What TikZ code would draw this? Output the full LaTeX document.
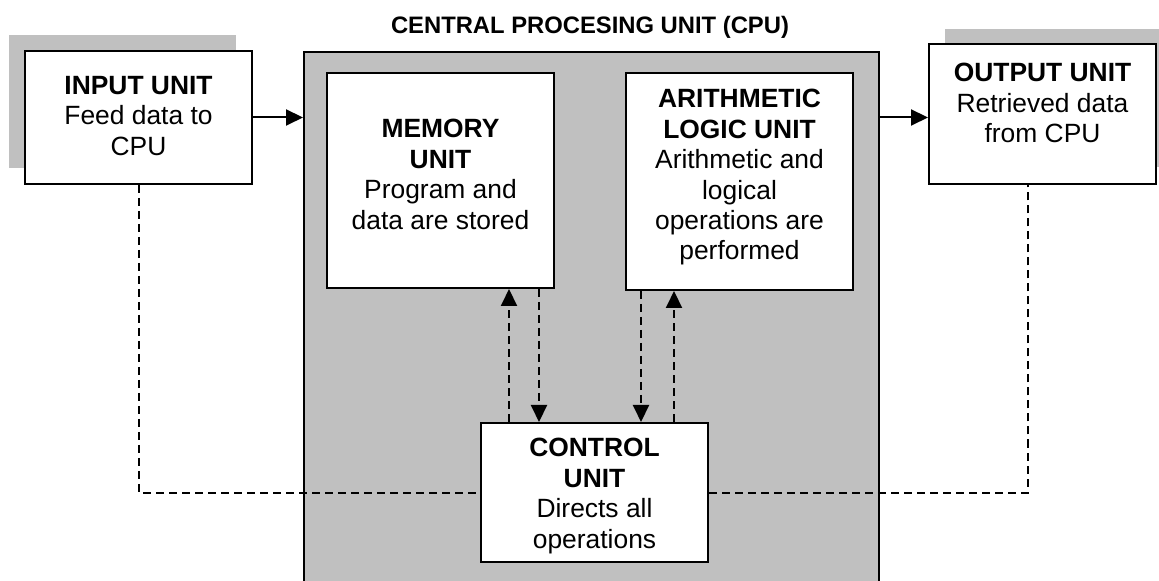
\documentclass[tikz,border=0pt]{standalone}
\usepackage{fontspec}
\setmainfont{Liberation Sans}
\usetikzlibrary{arrows.meta,positioning}
\definecolor{cpugray}{HTML}{C0C0C0}

\begin{document}
\begin{tikzpicture}[x=0.5pt,y=-0.5pt,
    unitbox/.style={draw,line width=1pt,fill=white,minimum width=113.5pt,inner sep=0pt},
    unittext/.style={align=center,inner sep=0pt,font=\fontsize{13.2}{15.2}\selectfont},
    flow/.style={line width=1pt,-{Triangle[length=8.5pt,width=8pt]}},
    ctrl/.style={line width=1pt,dash pattern=on 4pt off 2.5pt},
    ctrlarrow/.style={ctrl,-{Triangle[length=8.5pt,width=8pt]}}]

\clip (0,0) rectangle (1159,581);

% ----------------------------------------------------------
% Shadows behind input and output units
% ----------------------------------------------------------
\fill[cpugray] (9,35) rectangle (236,168);
\fill[cpugray] (945,29) rectangle (1170,167);

% ----------------------------------------------------------
% CPU
% ----------------------------------------------------------
\node[draw,line width=1pt,fill=cpugray,minimum width=287.5pt,minimum height=274pt,inner sep=0pt] (cpu) at (591.5,326) {};
\node[anchor=base,font=\bfseries\fontsize{11.9}{14}\selectfont] (cputitle) at (590,34) {CENTRAL PROCESING UNIT (CPU)};

% ----------------------------------------------------------
% Units
% ----------------------------------------------------------
\node[unitbox,minimum height=66.5pt] (input) at (138.5,117.5) {};
\node[unitbox,minimum height=70pt] (output) at (1042.5,114) {};
\node[unitbox,minimum height=107.5pt] (memory) at (440.5,180.5) {};
\node[unitbox,minimum height=108.5pt] (alu) at (739.5,181.5) {};
\node[unitbox,minimum height=69.5pt] (control) at (594.5,492.5) {};

\node[unittext,below=13pt of input.north] (inputtext) {\textbf{INPUT UNIT}\\Feed data to\\CPU};
\node[unittext,below=10pt of output.north] (outputtext) {\textbf{OUTPUT UNIT}\\Retrieved data\\from CPU};
\node[unittext,below=23.5pt of memory.north] (memorytext) {\textbf{MEMORY}\\\textbf{UNIT}\\Program and\\data are stored};
\node[unittext,below=8.5pt of alu.north] (alutext) {\textbf{ARITHMETIC}\\\textbf{LOGIC UNIT}\\Arithmetic and\\logical\\operations are\\performed};
\node[unittext,below=8pt of control.north] (controltext) {\textbf{CONTROL}\\\textbf{UNIT}\\Directs all\\operations};

% ----------------------------------------------------------
% Data flow
% ----------------------------------------------------------
\draw[flow] (input.east) -- (input.east -| cpu.west);
\draw[flow] (cpu.east |- input.east) -- (output.west |- input.east);

% ----------------------------------------------------------
% Control signals
% ----------------------------------------------------------
\draw[ctrl] (input.south) |- (control.west);
\draw[ctrl] (control.east) -| ([xshift=-7.25pt]output.south);

\draw[ctrlarrow] ([xshift=-42.75pt]control.north) -- ([xshift=-42.75pt]control.north |- memory.south);
\draw[ctrlarrow] ([xshift=-27.75pt]control.north |- memory.south) -- ([xshift=-27.75pt]control.north);
\draw[ctrlarrow] ([xshift=23.25pt]control.north |- alu.south) -- ([xshift=23.25pt]control.north);
\draw[ctrlarrow] ([xshift=39.75pt]control.north) -- ([xshift=39.75pt]control.north |- alu.south);

\end{tikzpicture}
\end{document}
